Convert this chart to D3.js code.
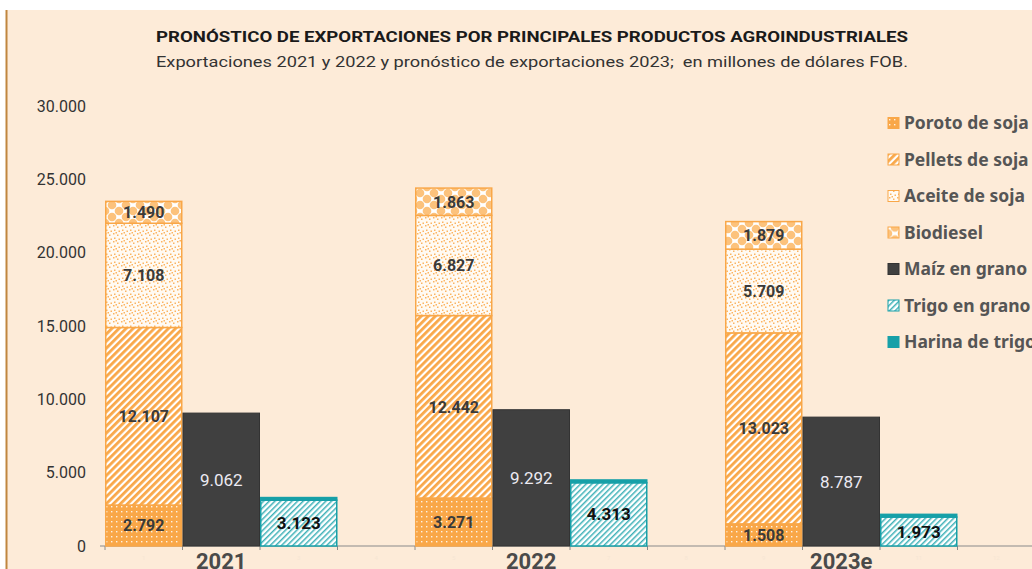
<!DOCTYPE html>
<html>
<head>
<meta charset="utf-8">
<script src="https://cdn.jsdelivr.net/npm/d3@7"></script>
<style>
  body { margin: 0; background: #fff; }
  svg { display: block; }
</style>
</head>
<body>
<script>
// datos (millones de dólares FOB)
var years = ["2021", "2022", "2023e"];
var poroto = [2792, 3271, 1508];
var pellets = [12107, 12442, 13023];
var aceite = [7108, 6827, 5709];
var biodiesel = [1490, 1863, 1879];
var maiz = [9062, 9292, 8787];
var trigo = [3123, 4313, 1973];
var harina = [180, 190, 185];
var yTicks = [0, 5000, 10000, 15000, 20000, 25000, 30000];
var seriesNames = ["Poroto de soja", "Pellets de soja", "Aceite de soja", "Biodiesel",
                   "Maíz en grano", "Trigo en grano", "Harina de trigo"];

var width = 1032, height = 569;
var orange = "#f9a748";
var teal = "#17a0a8";

var loc = d3.formatLocale({decimal: ",", thousands: ".", grouping: [3], currency: ["", ""]});
var fmt = loc.format(",d");

var svg = d3.select("body").append("svg")
    .attr("width", width)
    .attr("height", height);

svg.append("rect").attr("width", width).attr("height", height).attr("fill", "#fff");
svg.append("rect").attr("x", 6).attr("y", 10).attr("width", width - 6).attr("height", height - 10)
    .attr("fill", "#fdebd8");
svg.append("line").attr("x1", 6.5).attr("x2", 6.5).attr("y1", 10).attr("y2", height)
    .attr("stroke", "#c0863f").attr("stroke-width", 2);

/* patterns */
var defs = svg.append("defs");

var pPoroto = defs.append("pattern").attr("id", "p-poroto")
    .attr("patternUnits", "userSpaceOnUse").attr("width", 5).attr("height", 5);
pPoroto.append("rect").attr("width", 5).attr("height", 5).attr("fill", orange);
pPoroto.append("rect").attr("x", 1).attr("y", 1).attr("width", 1.4).attr("height", 1.4).attr("fill", "#fff").attr("opacity", 0.85);

var pPellets = defs.append("pattern").attr("id", "p-pellets")
    .attr("patternUnits", "userSpaceOnUse").attr("width", 5).attr("height", 5)
    .attr("patternTransform", "rotate(45)");
pPellets.append("rect").attr("width", 5).attr("height", 5).attr("fill", "#fff");
pPellets.append("rect").attr("width", 2.8).attr("height", 5).attr("fill", orange);

var pAceite = defs.append("pattern").attr("id", "p-aceite")
    .attr("patternUnits", "userSpaceOnUse").attr("width", 8).attr("height", 8);
pAceite.append("rect").attr("width", 8).attr("height", 8).attr("fill", "#fffaf3");
[[1, 1], [5, 2.5], [2, 5.5], [6.5, 6.5], [3.5, 0]].forEach(function(d){
    pAceite.append("rect").attr("x", d[0]).attr("y", d[1]).attr("width", 1.5).attr("height", 1.5)
        .attr("fill", "#fbb462");
});

var pBio = defs.append("pattern").attr("id", "p-bio")
    .attr("patternUnits", "userSpaceOnUse").attr("width", 14).attr("height", 12)
    .attr("y", 1);
pBio.append("rect").attr("width", 14).attr("height", 12).attr("fill", "#fff");
[[0, 0], [14, 0], [0, 12], [14, 12], [7, 6]].forEach(function(d){
    pBio.append("circle").attr("cx", d[0]).attr("cy", d[1]).attr("r", 4.3)
        .attr("fill", "#fcc27c");
});

var pTrigo = defs.append("pattern").attr("id", "p-trigo")
    .attr("patternUnits", "userSpaceOnUse").attr("width", 4).attr("height", 4)
    .attr("patternTransform", "rotate(45)");
pTrigo.append("rect").attr("width", 4).attr("height", 4).attr("fill", "#fff");
pTrigo.append("rect").attr("width", 1.5).attr("height", 4).attr("fill", "#3fb1b8");

var fills = ["url(#p-poroto)", "url(#p-pellets)", "url(#p-aceite)", "url(#p-bio)",
             "#404040", "url(#p-trigo)", teal];
var strokes = [orange, orange, orange, orange, "#333", teal, teal];

/* title */
svg.append("text").attr("x", 532).attr("y", 42).attr("text-anchor", "middle")
    .attr("font-family", "Roboto").attr("font-weight", "bold").attr("font-size", 15)
    .attr("fill", "#1a1a1a")
    .attr("textLength", 752).attr("lengthAdjust", "spacingAndGlyphs")
    .text("PRONÓSTICO DE EXPORTACIONES POR PRINCIPALES PRODUCTOS AGROINDUSTRIALES");
svg.append("text").attr("x", 532).attr("y", 67).attr("text-anchor", "middle")
    .attr("font-family", "Roboto").attr("font-size", 15)
    .attr("fill", "#333").style("white-space", "pre")
    .attr("textLength", 752).attr("lengthAdjust", "spacingAndGlyphs")
    .text("Exportaciones 2021 y 2022 y pronóstico de exportaciones 2023;  en millones de dólares FOB.");

/* scales */
var slots = d3.range(1, 13);
var x = d3.scaleBand().domain(slots).range([105, 1035]).padding(0);
var y = d3.scaleLinear().domain([0, 30000]).range([546, 106]);

// y axis labels
svg.append("g").selectAll("text").data(yTicks).enter().append("text")
    .attr("x", 86).attr("y", function(d){ return y(d); }).attr("dy", "0.36em")
    .attr("text-anchor", "end")
    .attr("font-family", "Roboto").attr("font-size", 16).attr("fill", "#333")
    .text(function(d){ return fmt(d); });

// x axis
var xAxis = svg.append("g").attr("transform", "translate(0,546)");
xAxis.append("line").attr("x1", 100).attr("x2", width).attr("stroke", "#8a8a8a").attr("stroke-width", 1.2);
xAxis.selectAll("line.tick").data(d3.range(0, 13)).enter().append("line")
    .attr("class", "tick")
    .attr("x1", function(i){ return 105 + i * x.bandwidth(); })
    .attr("x2", function(i){ return 105 + i * x.bandwidth(); })
    .attr("y1", 0).attr("y2", 4).attr("stroke", "#8a8a8a");
// faint slot numbers (hidden under year labels for middle slots)
xAxis.selectAll("text.slot").data(slots.filter(function(s){ return s % 4 !== 2; })).enter().append("text")
    .attr("class", "slot")
    .attr("x", function(d){ return x(d) + x.bandwidth() / 2; })
    .attr("y", 14).attr("text-anchor", "middle")
    .attr("font-family", "Roboto").attr("font-size", 6).attr("fill", "#f6e6d4")
    .text(function(d){ return d; });

var data = years.map(function(yr, i){
    return {year: yr, poroto: poroto[i], pellets: pellets[i], aceite: aceite[i],
            biodiesel: biodiesel[i], maiz: maiz[i], trigo: trigo[i], harina: harina[i]};
});

var soyKeys = ["poroto", "pellets", "aceite", "biodiesel"];
var soyStack = d3.stack().keys(soyKeys)(data);
var wheatStack = d3.stack().keys(["trigo", "harina"])(data);

function slotOf(i, k){ return 1 + i * 4 + k; }

var bars = svg.append("g");
var labels = svg.append("g");

soyStack.forEach(function(s, si){
    s.forEach(function(d, i){
        bars.append("rect")
            .attr("x", x(slotOf(i, 0)) + 0.75)
            .attr("y", y(d[1]))
            .attr("width", x.bandwidth() - 1.5)
            .attr("height", y(d[0]) - y(d[1]))
            .attr("fill", fills[si])
            .attr("stroke", strokes[si]).attr("stroke-width", 1.5);
        labels.append("text")
            .attr("x", x(slotOf(i, 0)) + x.bandwidth() / 2)
            .attr("y", (y(d[0]) + y(d[1])) / 2).attr("dy", "0.36em")
            .attr("text-anchor", "middle")
            .attr("font-family", "Roboto").attr("font-weight", "bold").attr("font-size", 16)
            .attr("fill", "#3a3a3a")
            .text(fmt(d.data[s.key]));
    });
});

data.forEach(function(d, i){
    bars.append("rect")
        .attr("x", x(slotOf(i, 1)) + 0.5)
        .attr("y", y(d.maiz))
        .attr("width", x.bandwidth() - 1)
        .attr("height", y(0) - y(d.maiz))
        .attr("fill", fills[4]).attr("stroke", strokes[4]).attr("stroke-width", 1);
    labels.append("text")
        .attr("x", x(slotOf(i, 1)) + x.bandwidth() / 2)
        .attr("y", (y(0) + y(d.maiz)) / 2).attr("dy", "0.36em")
        .attr("text-anchor", "middle")
        .attr("font-family", "Roboto").attr("font-size", 17)
        .attr("fill", "#eceaf2")
        .text(fmt(d.maiz));
});

wheatStack.forEach(function(s, si){
    s.forEach(function(d, i){
        bars.append("rect")
            .attr("x", x(slotOf(i, 2)) + 0.75)
            .attr("y", y(d[1]))
            .attr("width", x.bandwidth() - 1.5)
            .attr("height", y(d[0]) - y(d[1]))
            .attr("fill", fills[5 + si])
            .attr("stroke", strokes[5 + si]).attr("stroke-width", 1.5);
        if (s.key === "trigo") {
            labels.append("text")
                .attr("x", x(slotOf(i, 2)) + x.bandwidth() / 2)
                .attr("y", (y(d[0]) + y(d[1])) / 2).attr("dy", "0.36em")
                .attr("text-anchor", "middle")
                .attr("font-family", "Roboto").attr("font-weight", "bold").attr("font-size", 17)
                .attr("fill", "#111")
                .text(fmt(d.data.trigo));
        }
    });
});

// year labels (cut by the bottom edge, as in the original)
svg.append("g").selectAll("text").data(years).enter().append("text")
    .attr("x", function(d, i){ return x(slotOf(i, 1)) + x.bandwidth() / 2; })
    .attr("y", 569).attr("text-anchor", "middle")
    .attr("font-family", "Roboto").attr("font-weight", "bold").attr("font-size", 22)
    .attr("fill", "#4a4a4a")
    .text(function(d){ return d; });

// legend
var legend = svg.append("g").selectAll("g").data(seriesNames).enter().append("g")
    .attr("transform", function(d, i){ return "translate(888," + (123 + i * 36.5) + ")"; });
legend.append("rect")
    .attr("x", 0).attr("y", -5.5).attr("width", 11).attr("height", 11)
    .attr("fill", function(d, i){ return fills[i]; })
    .attr("stroke", function(d, i){ return strokes[i]; }).attr("stroke-width", 1);
legend.append("text")
    .attr("x", 16).attr("dy", "0.36em")
    .attr("font-family", "Noto Sans").attr("font-weight", "bold").attr("font-size", 17.5)
    .attr("fill", "#555")
    .text(function(d){ return d; });
</script>
</body>
</html>
